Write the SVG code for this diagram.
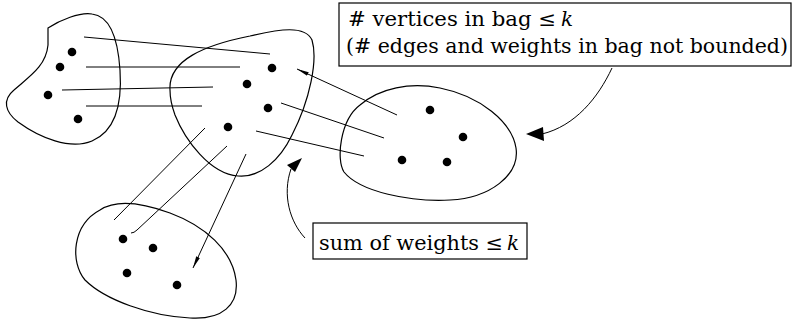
<svg xmlns="http://www.w3.org/2000/svg" width="793" height="323" viewBox="0 0 793 323">
<style>
.bag{fill:none;stroke:#000;stroke-width:1.2}
.dot{fill:#000}
.edge{fill:none;stroke:#000;stroke-width:1}
.box{fill:#fff;stroke:#000;stroke-width:1.2}
.lbl{font-family:'DejaVu Serif','Liberation Serif',serif;font-size:20px;fill:#000}
.it{font-style:italic}
.ah{fill:#000;stroke:none}
</style>
<defs>
<marker id="thin" viewBox="0 0 12 6" refX="12" refY="3" markerWidth="12" markerHeight="6" markerUnits="userSpaceOnUse" orient="auto">
<path d="M0,1 L12,3 L0,5 Z" fill="#000"/>
</marker>
</defs>
<rect width="793" height="323" fill="#fff"/>
<g id="bag-left">
<path class="bag" d="M48,28 C60,20 80,12 92,14 C110,16 118,40 120,70 C122,100 118,130 92,141 C70,150 40,138 18,122 C5,112 2,100 14,90 C30,76 46,66 48,45 Z"/>
<circle class="dot" cx="72" cy="52" r="4.3"/>
<circle class="dot" cx="60" cy="67" r="4.3"/>
<circle class="dot" cx="48" cy="95" r="4.3"/>
<circle class="dot" cx="78" cy="119" r="4.3"/>
</g>
<g id="bag-middle">
<path class="bag" d="M170,90 C168,60 205,45 250,36 C280,29 305,25 312,40 C318,60 310,100 292,135 C280,160 260,178 238,176 C210,174 185,140 175,115 C171,104 170,97 170,90 Z"/>
<circle class="dot" cx="272" cy="68" r="4.3"/>
<circle class="dot" cx="247" cy="84" r="4.3"/>
<circle class="dot" cx="268" cy="108" r="4.3"/>
<circle class="dot" cx="228" cy="127" r="4.3"/>
</g>
<g id="bag-right">
<path class="bag" d="M360,105 C380,88 410,82 440,88 C480,96 512,122 516,148 C520,175 490,198 450,200 C410,202 360,192 344,172 C336,160 340,120 360,105 Z"/>
<circle class="dot" cx="430" cy="110" r="4.3"/>
<circle class="dot" cx="463" cy="137" r="4.3"/>
<circle class="dot" cx="402" cy="160" r="4.3"/>
<circle class="dot" cx="447" cy="162" r="4.3"/>
</g>
<g id="bag-bottom">
<path class="bag" d="M100,210 C115,200 140,202 170,213 C205,226 232,250 236,280 C239,305 222,320 190,318 C150,316 105,300 85,280 C70,262 72,225 100,210 Z"/>
<circle class="dot" cx="123" cy="239" r="4.3"/>
<circle class="dot" cx="153" cy="248" r="4.3"/>
<circle class="dot" cx="127" cy="273" r="4.3"/>
<circle class="dot" cx="177" cy="285" r="4.3"/>
</g>
<g id="connectors">
<line class="edge" x1="84" y1="37" x2="270" y2="54"/>
<line class="edge" x1="86" y1="67" x2="240" y2="67"/>
<line class="edge" x1="62" y1="90" x2="213" y2="87"/>
<line class="edge" x1="86" y1="106" x2="202" y2="106"/>
<line class="edge" x1="397" y1="115" x2="297" y2="69" marker-end="url(#thin)"/>
<line class="edge" x1="281" y1="103" x2="384" y2="138"/>
<line class="edge" x1="256" y1="131" x2="364" y2="156"/>
<line class="edge" x1="205" y1="128" x2="114" y2="220"/>
<path class="edge" d="M227,146 L137,230 Q134,233 131,233"/>
<line class="edge" x1="246" y1="154" x2="193" y2="268" marker-end="url(#thin)"/>
<path class="edge" d="M612,68 C598,98 575,126 542,134"/>
<path class="ah" d="M526,134 L543,127 L544,141 Z"/>
<path class="edge" d="M305,238 C290,222 282,195 291,169"/>
<path class="ah" d="M302,158 L287,165 L295,172 Z"/>
</g>
<g id="label-vertices">
<rect class="box" x="339" y="3" width="452" height="63"/>
<text class="lbl" x="348" y="26" textLength="208" lengthAdjust="spacingAndGlyphs"># vertices in bag ≤</text>
<text class="lbl it" x="561" y="26">k</text>
<text class="lbl" x="346" y="53" textLength="442" lengthAdjust="spacingAndGlyphs">(# edges and weights in bag not bounded)</text>
</g>
<g id="label-weights">
<rect class="box" x="313" y="223" width="214" height="36"/>
<text class="lbl" x="319" y="250" textLength="184" lengthAdjust="spacingAndGlyphs">sum of weights ≤</text>
<text class="lbl it" x="507" y="250">k</text>
</g>
</svg>
